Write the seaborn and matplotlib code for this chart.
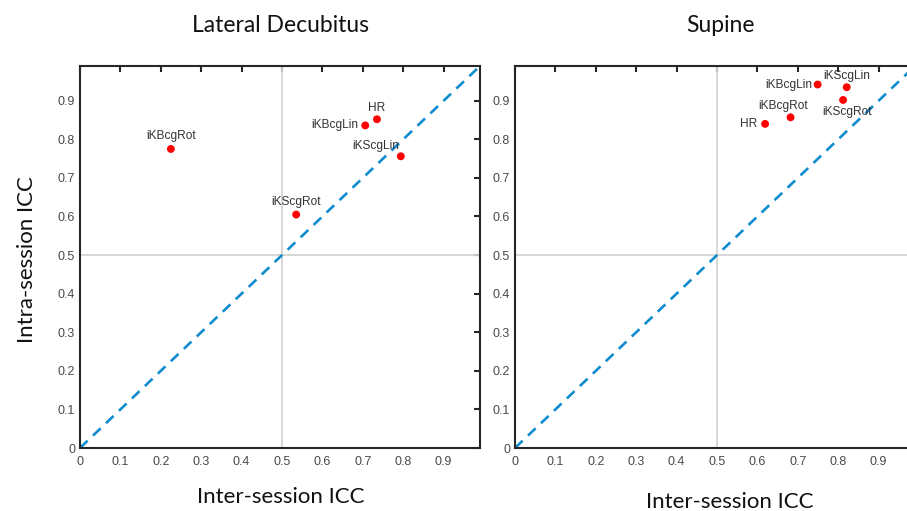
import numpy as np
import pandas as pd
import seaborn as sns
import matplotlib.pyplot as plt

# ICC values
names = ['iKBcgRot', 'HR', 'iKBcgLin', 'iKScgLin', 'iKScgRot']
lateral_inter = [0.225, 0.735, 0.706, 0.794, 0.535]
lateral_intra = [0.775, 0.852, 0.836, 0.756, 0.605]

supine_names = ['iKBcgLin', 'iKScgLin', 'iKScgRot', 'iKBcgRot', 'HR']
supine_inter = [0.749, 0.821, 0.812, 0.682, 0.619]
supine_intra = [0.942, 0.935, 0.902, 0.857, 0.840]

tick_vals = [0, 0.1, 0.2, 0.3, 0.4, 0.5, 0.6, 0.7, 0.8, 0.9]
tick_labels = ['0', '0.1', '0.2', '0.3', '0.4', '0.5', '0.6', '0.7', '0.8', '0.9']
identity = [0, 1]

# label placement: (dx, dy in points, ha, va)
lateral_offsets = {
    'iKBcgRot': (0, 5, 'center', 'bottom'),
    'HR': (0, 4, 'center', 'bottom'),
    'iKBcgLin': (-5, 0, 'right', 'center'),
    'iKScgLin': (-1, 3, 'right', 'bottom'),
    'iKScgRot': (0, 5, 'center', 'bottom'),
}
supine_offsets = {
    'iKBcgLin': (-4, 0, 'right', 'center'),
    'iKScgLin': (0, 4, 'center', 'bottom'),
    'iKScgRot': (3, -4, 'center', 'top'),
    'iKBcgRot': (-5, 4, 'center', 'bottom'),
    'HR': (-6, 0, 'right', 'center'),
}

sns.set_theme(style='white')
plt.rcParams['font.family'] = ['Liberation Sans', 'DejaVu Sans']

fig = plt.figure(figsize=(9.07, 5.11), dpi=100)
ax1 = fig.add_axes([80 / 907, 63 / 511, 400 / 907, 382 / 511])
ax2 = fig.add_axes([515 / 907, 63 / 511, 400 / 907, 382 / 511])


def draw_panel(ax, labels, xs, ys, offsets, title, title_x):
    ax.axvline(0.5, color='#d4d4d4', lw=1.3, zorder=1)
    ax.axhline(0.5, color='#d4d4d4', lw=1.3, zorder=1)
    sns.lineplot(x=identity, y=identity, ax=ax, color='#0f8bd0', lw=1.9,
                 linestyle=(0, (4, 2.8)), zorder=2)
    df = pd.DataFrame({'inter': xs, 'intra': ys, 'name': labels})
    sns.scatterplot(data=df, x='inter', y='intra', ax=ax, color='#ff0000',
                    s=32, edgecolor='none', zorder=3)
    for _, row in df.iterrows():
        dx, dy, ha, va = offsets[row['name']]
        ax.annotate(row['name'], (row['inter'], row['intra']),
                    xytext=(dx, dy), textcoords='offset points',
                    ha=ha, va=va, fontsize=8.6, color='#333333')
    ax.set_xlim(0, 0.99)
    ax.set_ylim(0, 0.99)
    ax.set_xticks(tick_vals)
    ax.set_xticklabels(tick_labels)
    ax.set_yticks(tick_vals)
    ax.set_yticklabels(tick_labels)
    ax.tick_params(axis='both', direction='in', top=True, right=True,
                   length=4, width=1.5, color='#262626',
                   labelcolor='#4a4a4a', labelsize=9)
    ax.tick_params(axis='x', pad=6)
    ax.tick_params(axis='y', pad=3.5)
    for sp in ax.spines.values():
        sp.set_visible(True)
        sp.set_color('#262626')
        sp.set_linewidth(1.5)
    ax.set_xlabel('')
    ax.set_ylabel('')
    fig.text(title_x, 1 - 26 / 511, title, ha='center', va='center',
             fontsize=16.5, family=['Lato', 'DejaVu Sans'], color='#111111')


draw_panel(ax1, names, lateral_inter, lateral_intra, lateral_offsets,
           'Lateral Decubitus', 280 / 907)
draw_panel(ax2, supine_names, supine_inter, supine_intra, supine_offsets,
           'Supine', 720 / 907)

fig.text(281 / 907, 1 - 497 / 511, 'Inter-session ICC', ha='center', va='center',
         fontsize=16, family=['Lato', 'DejaVu Sans'], color='#111111')
fig.text(730 / 907, 1 - 502 / 511, 'Inter-session ICC', ha='center', va='center',
         fontsize=16, family=['Lato', 'DejaVu Sans'], color='#111111')
fig.text(27 / 907, 1 - 260 / 511, 'Intra-session ICC', ha='center', va='center',
         rotation=90, fontsize=16, family=['Lato', 'DejaVu Sans'], color='#111111')

fig.savefig('out.png', dpi=100)
